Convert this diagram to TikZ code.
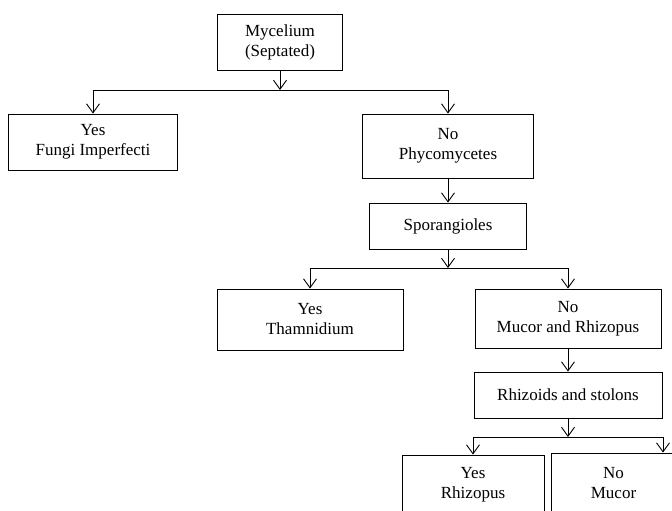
\documentclass[tikz,border=0pt]{standalone}
\usepackage{fontspec}
\setmainfont{Liberation Serif}
\usepackage{tikz}
\usetikzlibrary{arrows.meta}
\tikzstyle{box}=[draw,rectangle,align=center,inner sep=1pt]
\tikzstyle{arr}=[-{Straight Barb[length=9pt,width=13pt]}]

\begin{document}
\begin{tikzpicture}[x=1pt,y=-1pt,line width=0.9pt,font=\fontsize{17}{20}\selectfont]
  \useasboundingbox (0,0) rectangle (672,511);
  \clip (0,0) rectangle (672,511);

  \node[box,minimum width=125pt,minimum height=56pt] (myc) at (280,42) {Mycelium\\(Septated)};
  \node[box,minimum width=169pt,minimum height=56pt] (fungi) at (93,142) {Yes\\Fungi Imperfecti};
  \node[box,minimum width=171pt,minimum height=64pt] (phyco) at (448,146) {No\\Phycomycetes};
  \node[box,minimum width=157pt,minimum height=46pt] (spor) at (448,226) {Sporangioles};
  \node[box,minimum width=186pt,minimum height=61pt] (tham) at (310,319.5) {Yes\\Thamnidium};
  \node[box,minimum width=186pt,minimum height=59pt] (mucrhiz) at (568,318.5) {No\\Mucor and Rhizopus};
  \node[box,minimum width=188pt,minimum height=46pt] (rhst) at (568,395) {Rhizoids and stolons};
  \node[box,minimum width=142pt,minimum height=60pt] (rhizopus) at (473,485) {Yes\\Rhizopus};
  \node[box,minimum width=125pt,minimum height=60pt] (mucor) at (613.5,483) {No\\Mucor};

  \coordinate (j1) at (280,90);
  \coordinate (j2) at (448,268);
  \coordinate (j3) at (568,437);
  \coordinate (j3r) at (663,437);

  \draw[arr] (myc.south) -- (j1);
  \draw (fungi.north |- j1) -- (phyco.north |- j1);
  \draw[arr] (fungi.north |- j1) -- (fungi.north);
  \draw[arr] (phyco.north |- j1) -- (phyco.north);

  \draw[arr] (phyco.south) -- (spor.north);

  \draw[arr] (spor.south) -- (j2);
  \draw (tham.north |- j2) -- (mucrhiz.north |- j2);
  \draw[arr] (tham.north |- j2) -- (tham.north);
  \draw[arr] (mucrhiz.north |- j2) -- (mucrhiz.north);

  \draw[arr] (mucrhiz.south) -- (rhst.north);

  \draw[arr] (rhst.south) -- (j3);
  \draw (rhizopus.north |- j3) -- (j3r);
  \draw[arr] (rhizopus.north |- j3) -- (rhizopus.north);
  \draw[arr] (j3r) -- (j3r |- mucor.north);
\end{tikzpicture}
\end{document}
